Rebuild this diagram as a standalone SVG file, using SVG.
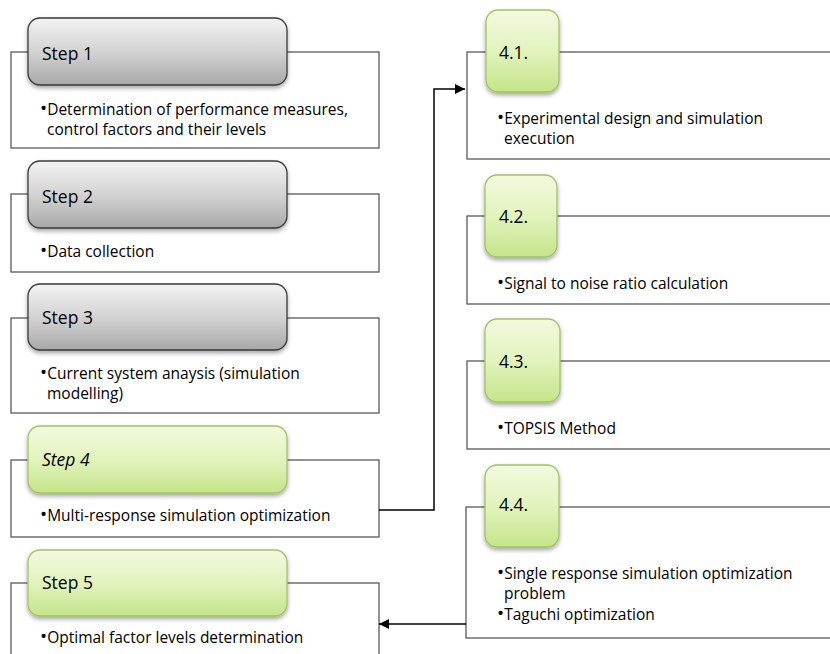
<svg xmlns="http://www.w3.org/2000/svg" width="830" height="654" viewBox="0 0 830 654">
<defs>
<linearGradient id="gGray" x1="0" y1="0" x2="0" y2="1">
<stop offset="0" stop-color="#f3f3f3"/>
<stop offset="0.5" stop-color="#d3d3d3"/>
<stop offset="1" stop-color="#a8a8a8"/>
</linearGradient>
<linearGradient id="gGreen" x1="0" y1="0" x2="0" y2="1">
<stop offset="0" stop-color="#f2fadf"/>
<stop offset="0.5" stop-color="#e2f3bd"/>
<stop offset="1" stop-color="#c5e48a"/>
</linearGradient>
<filter id="sh" x="-10%" y="-10%" width="120%" height="130%">
<feDropShadow dx="0" dy="2.5" stdDeviation="2" flood-color="#000" flood-opacity="0.35"/>
</filter>
<marker id="arr" viewBox="0 0 10 10" refX="10" refY="5" markerWidth="10" markerHeight="10" markerUnits="userSpaceOnUse" orient="auto">
<path d="M0,0 L10,5 L0,10 z" fill="#000"/>
</marker>
</defs>
<style>
.box{fill:#fff;stroke:#595959;stroke-width:1.3}
.tabg{fill:url(#gGray);stroke:#3a3a3a;stroke-width:1.3;filter:url(#sh)}
.tabn{fill:url(#gGreen);stroke:#a3c166;stroke-width:1.3;filter:url(#sh)}
.lbl{font-family:"Open Sans","Noto Sans",sans-serif;font-size:17.5px;fill:#000}
.txt{font-family:"Open Sans","Noto Sans",sans-serif;font-size:15.5px;fill:#000}
.b{font-size:19px}
.con{fill:none;stroke:#000;stroke-width:1.5}
</style>

<g id="step1">
<rect class="box" x="11" y="52" width="368" height="96"/>
<rect class="tabg" x="28" y="18" width="259" height="67" rx="12"/>
<text class="lbl" x="42" y="60">Step 1</text>
<text class="txt" x="40" y="115"><tspan class="b">•</tspan>Determination of performance measures,</text>
<text class="txt" x="47" y="135">control factors and their levels</text>
</g>

<g id="step2">
<rect class="box" x="11" y="194" width="368" height="78"/>
<rect class="tabg" x="28" y="161" width="259" height="67" rx="12"/>
<text class="lbl" x="42" y="203">Step 2</text>
<text class="txt" x="40" y="257"><tspan class="b">•</tspan>Data collection</text>
</g>

<g id="step3">
<rect class="box" x="11" y="318" width="368" height="95"/>
<rect class="tabg" x="28" y="284" width="259" height="66" rx="12"/>
<text class="lbl" x="42" y="324">Step 3</text>
<text class="txt" x="40" y="379"><tspan class="b">•</tspan>Current system anaysis (simulation</text>
<text class="txt" x="47" y="399">modelling)</text>
</g>

<g id="step4">
<rect class="box" x="11" y="460" width="368" height="77"/>
<rect class="tabn" x="28" y="426" width="259" height="67" rx="12"/>
<text class="lbl" x="42" y="466" font-style="italic">Step 4</text>
<text class="txt" x="40" y="521"><tspan class="b">•</tspan>Multi-response simulation optimization</text>
</g>

<g id="step5">
<rect class="box" x="11" y="583" width="368" height="90"/>
<rect class="tabn" x="28" y="550" width="259" height="66" rx="12"/>
<text class="lbl" x="42" y="589">Step 5</text>
<text class="txt" x="40" y="643"><tspan class="b">•</tspan>Optimal factor levels determination</text>
</g>

<g id="s41">
<rect class="box" x="467" y="52" width="380" height="107"/>
<rect class="tabn" x="486" y="10" width="73" height="82" rx="12"/>
<text class="lbl" x="499" y="59">4.1.</text>
<text class="txt" x="497" y="124"><tspan class="b">•</tspan>Experimental design and simulation</text>
<text class="txt" x="504" y="144">execution</text>
</g>

<g id="s42">
<rect class="box" x="467" y="216" width="380" height="88"/>
<rect class="tabn" x="485" y="175" width="72" height="82" rx="12"/>
<text class="lbl" x="499" y="223">4.2.</text>
<text class="txt" x="497" y="289"><tspan class="b">•</tspan>Signal to noise ratio calculation</text>
</g>

<g id="s43">
<rect class="box" x="467" y="361" width="380" height="88"/>
<rect class="tabn" x="485" y="319" width="75" height="83" rx="12"/>
<text class="lbl" x="499" y="368">4.3.</text>
<text class="txt" x="497" y="434"><tspan class="b">•</tspan>TOPSIS Method</text>
</g>

<g id="s44">
<rect class="box" x="466" y="507" width="380" height="131"/>
<rect class="tabn" x="485" y="465" width="74" height="82" rx="12"/>
<text class="lbl" x="499" y="511">4.4.</text>
<text class="txt" x="497" y="579"><tspan class="b">•</tspan>Single response simulation optimization</text>
<text class="txt" x="504" y="599">problem</text>
<text class="txt" x="497" y="620"><tspan class="b">•</tspan>Taguchi optimization</text>
</g>

<g id="connectors">
<path class="con" d="M379,510 H434 V89 H465" marker-end="url(#arr)"/>
<path class="con" d="M466,624 H379" marker-end="url(#arr)"/>
</g>
</svg>
